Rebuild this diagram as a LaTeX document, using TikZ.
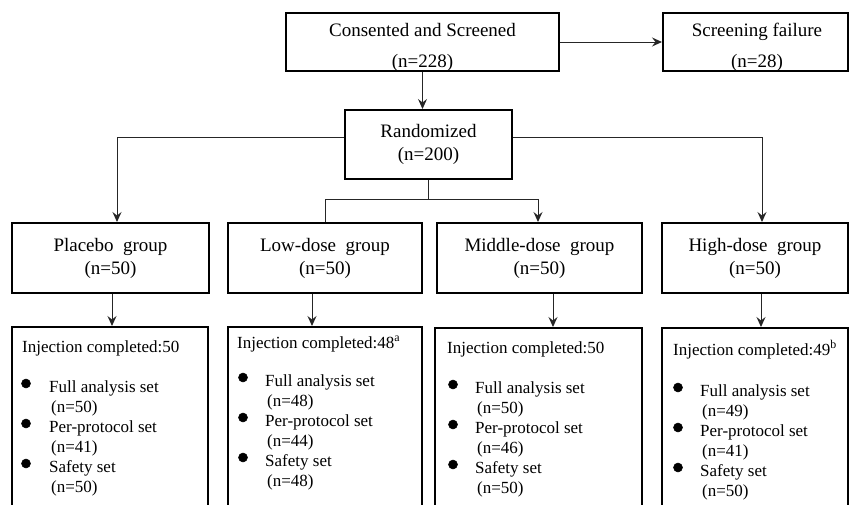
\documentclass[tikz,border=0pt]{standalone}
\usepackage{fontspec}
\setmainfont{Liberation Serif}
\usetikzlibrary{arrows.meta,calc}
\begin{document}
\begin{tikzpicture}[x=1pt,y=-1pt,
 box/.style={draw=black, line width=2pt, rectangle, inner sep=0pt},
 conn/.style={draw=black!85, line width=1pt},
 arr/.style={conn, -{Stealth[length=10pt,width=9pt,inset=3.5pt]}},
 big/.style={font=\fontsize{19}{23}\selectfont, align=center},
 toptxt/.style={font=\fontsize{19}{31}\selectfont, align=center, inner sep=0pt, anchor=north},
 small/.style={font=\fontsize{17}{20}\selectfont, inner sep=0pt, anchor=base west},
 bulletdot/.style={circle, draw=black, fill=black, line width=0.5pt, inner sep=0pt, minimum size=9pt}]
\useasboundingbox (0,0) rectangle (849,504);

% top row
\node[box, minimum width=273pt, minimum height=58pt] (cs) at (422.5,42) {};
\node[toptxt] (cslab) at (422.5,23) {Consented and Screened\\(n=228)};
\node[box, minimum width=185pt, minimum height=58pt] (sf) at (755.5,42) {};
\node[toptxt] (sflab) at (757,23) {Screening failure\\(n=28)};

% randomized
\node[box, big, minimum width=167pt, minimum height=69pt] (rnd) at (428.5,144.5) {Randomized\\(n=200)};

% groups
\node[box, big, minimum width=197pt, minimum height=70pt] (pl) at (110.5,258) {Placebo\ \ group\\(n=50)};
\node[box, big, minimum width=194pt, minimum height=70pt] (lo) at (325,258) {Low-dose\ \ group\\(n=50)};
\node[box, big, minimum width=205pt, minimum height=70pt] (mi) at (539.5,258) {Middle-dose\ \ group\\(n=50)};
\node[box, big, minimum width=186pt, minimum height=70pt] (hi) at (755,258) {High-dose\ \ group\\(n=50)};

% bottom boxes
\node[box, minimum width=196pt, minimum height=193pt] (plb) at (110,423.5) {};
\node[box, minimum width=194pt, minimum height=193pt] (lob) at (325,423.5) {};
\node[box, minimum width=207pt, minimum height=192pt] (mib) at (538.5,424) {};
\node[box, minimum width=186pt, minimum height=192pt] (hib) at (755,424) {};

% bottom box texts
\foreach \k/\ix/\iy/\bx/\tx/\fy/\inj/\na/\nb/\nc in {
  pl/22/352/26/49/392/{50}/{50}/{41}/{50},
  lo/237/348/243/265/386/{48\textsuperscript{a}}/{48}/{44}/{48},
  mi/447/353/453/475/393/{50}/{50}/{46}/{50},
  hi/673/355/678/700/396/{49\textsuperscript{b}}/{49}/{41}/{50}}{
  \node[small] (inj\k) at (\ix,\iy) {Injection completed:\inj};
  \node[small] (fa\k) at (\tx,\fy) {Full analysis set};
  \node[small] (fan\k) at (\tx+2,\fy+20) {(n=\na)};
  \node[small] (pp\k) at (\tx,\fy+40) {Per-protocol set};
  \node[small] (ppn\k) at (\tx+2,\fy+60) {(n=\nb)};
  \node[small] (ss\k) at (\tx,\fy+80) {Safety set};
  \node[small] (ssn\k) at (\tx+2,\fy+100) {(n=\nc)};
  \node[bulletdot] (d1\k) at (\bx,\fy-8.5) {};
  \node[bulletdot] (d2\k) at (\bx,\fy+31.5) {};
  \node[bulletdot] (d3\k) at (\bx,\fy+71.5) {};
}

% connectors
\draw[arr] (cs.east) -- (sf.west);
\draw[arr] (cs.south) -- (cs.south |- rnd.north);

\coordinate (rL) at (117,137);
\coordinate (rR) at (762,137);
\coordinate (bL) at (325,199);
\coordinate (bR) at (538,199);
\draw[arr] (rnd.west |- rL) -- (rL) -- (rL |- pl.north);
\draw[arr] (rnd.east |- rR) -- (rR) -- (rR |- hi.north);
\draw[conn] (rnd.south) -- (rnd.south |- bL);
\draw[arr] (bL |- lo.north) -- (bL) -- (bR) -- (bR |- mi.north);
\draw[conn] (bL) -- (bL |- lo.north);

\coordinate (pX) at (112,0);
\coordinate (lX) at (312,0);
\coordinate (mX) at (553,0);
\coordinate (hX) at (761,0);
\draw[arr] (pX |- pl.south) -- (pX |- plb.north);
\draw[arr] (lX |- lo.south) -- (lX |- lob.north);
\draw[arr] (mX |- mi.south) -- (mX |- mib.north);
\draw[arr] (hX |- hi.south) -- (hX |- hib.north);
\end{tikzpicture}
\end{document}
